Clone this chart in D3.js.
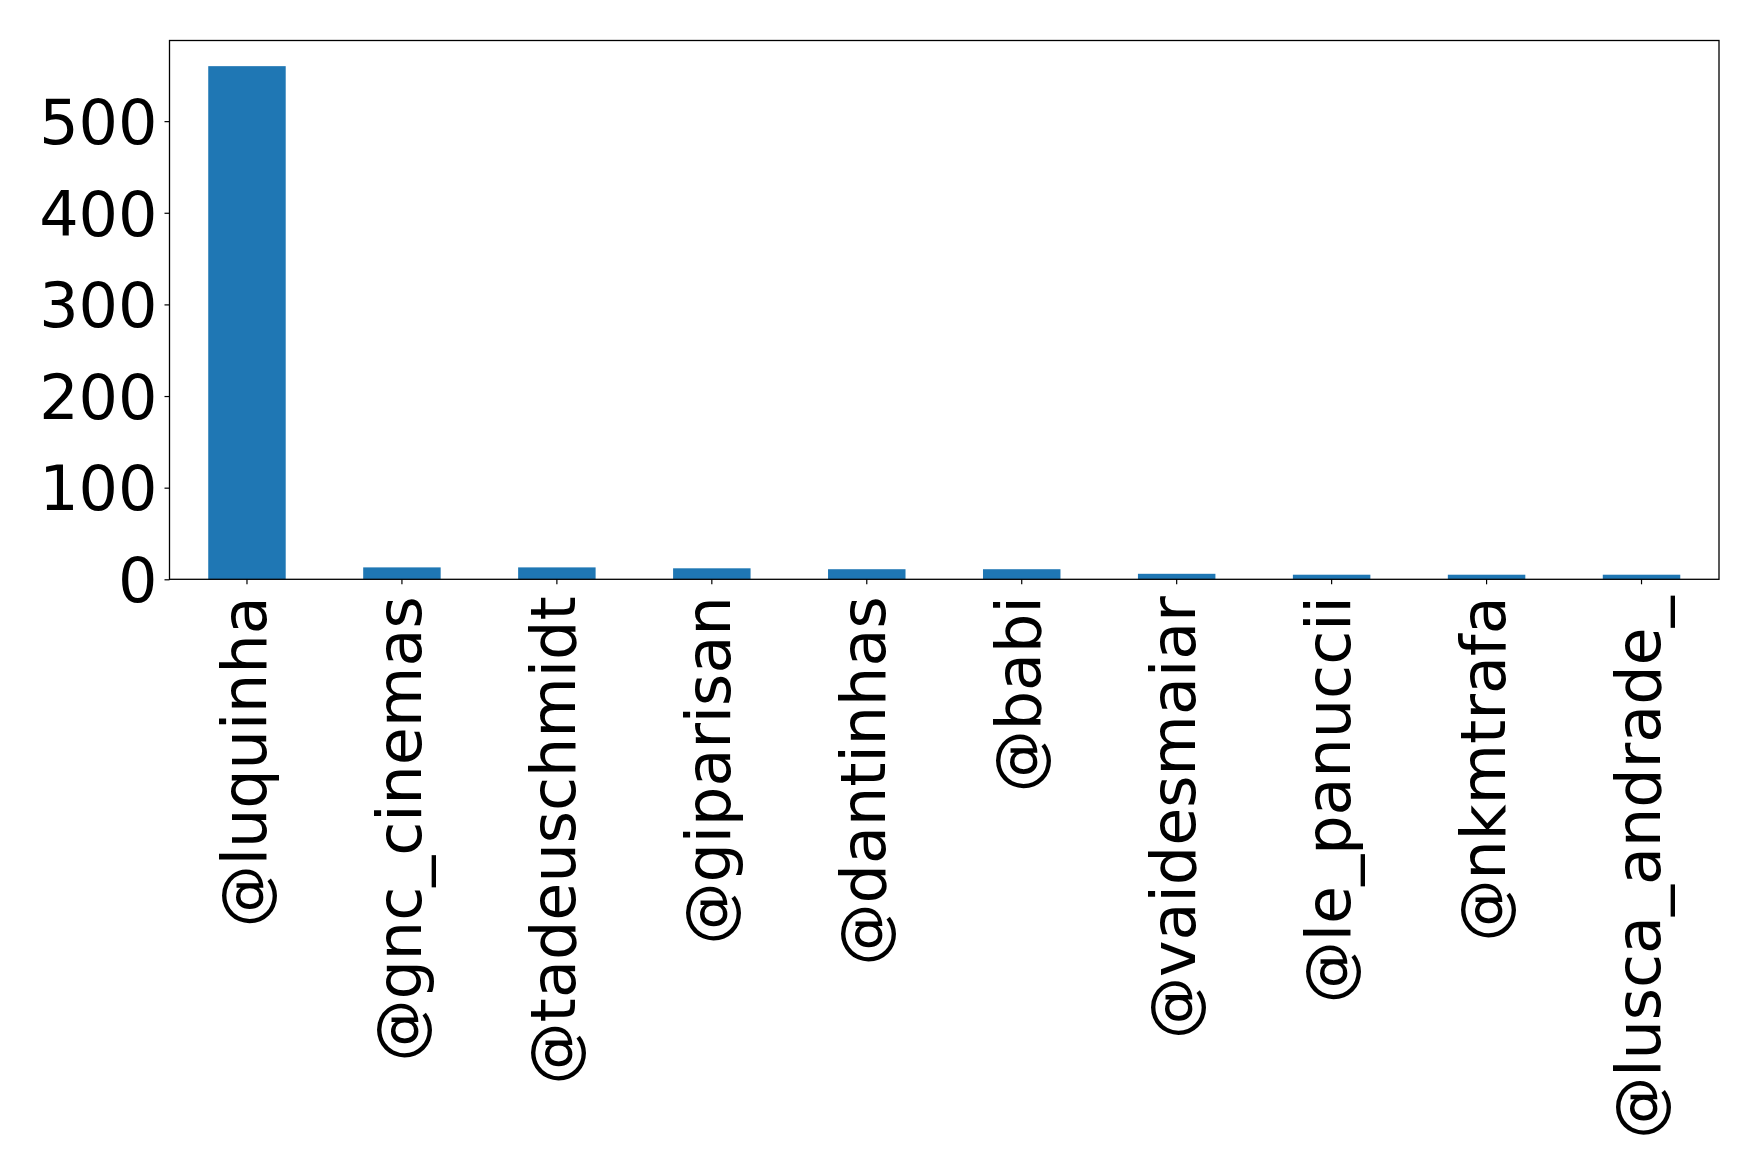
<!DOCTYPE html>
<html>
<head>
<meta charset="utf-8">
<script src="https://cdn.jsdelivr.net/npm/d3@7"></script>
<style>
  body { margin: 0; background: #fff; }
  text { font-family: "DejaVu Sans", sans-serif; fill: #000; }
  .domain { display: none; }
</style>
</head>
<body>
<div id="chart"></div>
<script>
// top-10 mentioned accounts
var users = ["@luquinha", "@gnc_cinemas", "@tadeuschmidt", "@giparisan", "@dantinhas",
             "@babi", "@vaidesmaiar", "@le_panuccii", "@nkmtrafa", "@lusca_andrade_"];
var counts = [560, 13, 13, 12, 11, 11, 6, 5, 5, 5];
var yTicks = [0, 100, 200, 300, 400, 500];

var W = 1759, H = 1175;
var margin = {top: 40.5, right: 40, bottom: 596, left: 169.5};
var width = 1719 - margin.left;
var height = 579.3 - margin.top;

var xScale = d3.scaleBand().domain(users).range([0, width]).paddingInner(0.5).paddingOuter(0.25);
var yScale = d3.scaleLinear().domain([0, d3.max(counts) * 1.05]).range([height, 0]);

var svg = d3.select("#chart").append("svg")
    .attr("width", W)
    .attr("height", H);

var g = svg.append("g")
    .attr("transform", "translate(" + margin.left + "," + margin.top + ")");

g.append("g")
  .selectAll("rect")
  .data(counts).enter()
  .append("rect")
  .attr("x", function(d, i) { return xScale(users[i]); })
  .attr("width", xScale.bandwidth())
  .attr("y", function(d) { return yScale(d); })
  .attr("height", function(d) { return height - yScale(d); })
  .attr("fill", "#1f77b4");

var yy = g.append("g")
    .call(d3.axisLeft(yScale).tickValues(yTicks).tickSize(5).tickPadding(7).tickFormat(d3.format("d")));
yy.selectAll("text").style("font-size", "62px").attr("dy", "0.36em");
yy.selectAll("line").attr("stroke", "#000").attr("stroke-width", 1.2);

var xx = g.append("g")
    .attr("transform", "translate(0," + height + ")")
    .call(d3.axisBottom(xScale).tickSize(5).tickPadding(0));
xx.selectAll("line").attr("stroke", "#000").attr("stroke-width", 1.2);
xx.selectAll("text")
  .style("font-size", "62px")
  .style("text-anchor", "end")
  .attr("transform", "rotate(-90)")
  .attr("x", -17)
  .attr("y", 0)
  .attr("dy", "0.3em");

g.append("rect")
  .attr("width", width)
  .attr("height", height)
  .attr("fill", "none")
  .attr("stroke", "#000")
  .attr("stroke-width", 1.3);
</script>
</body>
</html>
